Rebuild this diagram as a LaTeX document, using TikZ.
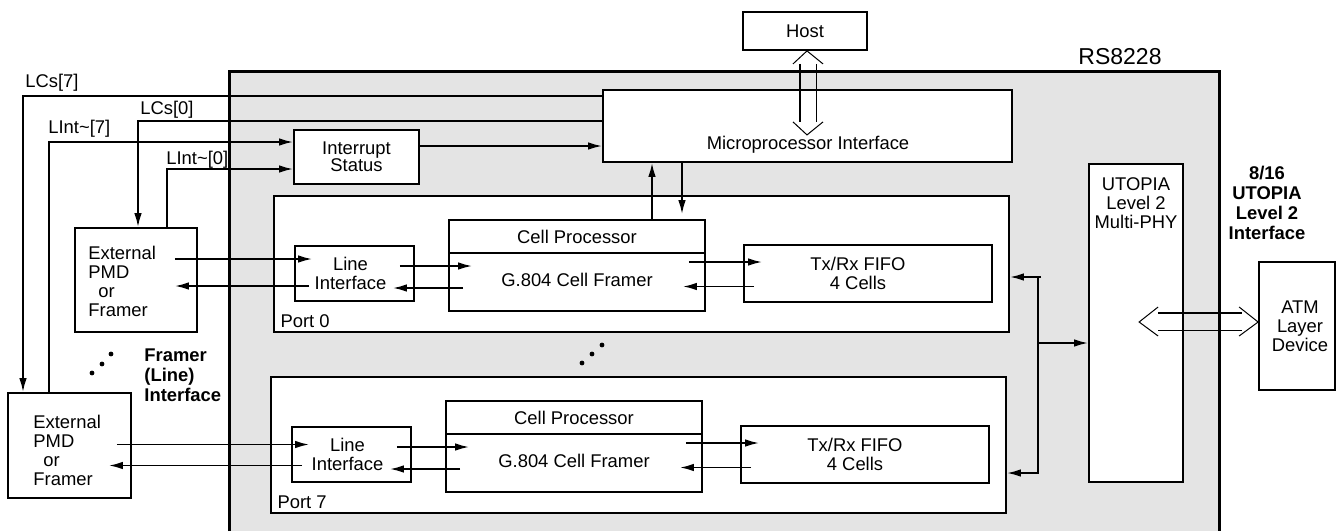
\documentclass[tikz,border=0pt]{standalone}
\usepackage{fontspec}
\setmainfont{Liberation Sans}
\usetikzlibrary{positioning,fit,calc,arrows.meta}
\definecolor{chipgray}{RGB}{228,228,228}
\def\diagfont{\fontsize{9.2pt}{9.5pt}\selectfont}

\begin{document}
\begin{tikzpicture}[x=0.5pt,y=-0.5pt,
  every node/.style={font=\diagfont,inner sep=0pt},
  blk/.style={draw,line width=0.9pt,fill=white,inner sep=0pt},
  con/.style={line width=0.9pt},
  arr/.style={line width=0.9pt,-{Latex[length=7pt,width=3.8pt]}},
  hollow/.style={line width=0.5pt},
  heavy/.style={line width=1pt},
  bold/.style={font=\fontsize{9.2pt}{10pt}\selectfont\bfseries}]
\useasboundingbox (0,0) rectangle (1336,531);

% the chip
\fill[chipgray] (229,71) rectangle (1219,531);
\draw[line width=1.5pt] (229,531) -- (229,71) -- (1219,71) -- (1219,531);
\node[font=\fontsize{11.5pt}{12pt}\selectfont] (chipname) at (1120,57) {RS8228};

% host side
\node[blk,fit={(743,12) (867,50)}] (host) {};
\node (hostlbl) at (host.center) {Host};
\node[blk,fit={(603,90) (1012,162)}] (upi) {};
\node (upilbl) at (808,145) {Microprocessor Interface};
\node[blk,fit={(294,130) (419,184)}] (irq) {};
\node[align=center,font=\fontsize{9.2pt}{8.5pt}\selectfont] (irqlbl) at (irq.center) {Interrupt\\Status};

\coordinate (ht) at ([xshift=1pt]host.south);
\draw[hollow] ($(ht)+(-14,13)$) -- (ht) -- ++(16,13);
\draw[heavy] ($(ht)+(-7,13)$) -- ++(0,58);
\draw[hollow] ($(ht)+(9,13)$) -- ++(0,58);
\draw[hollow] ($(ht)+(-14,71)$) -- ++(14,13) -- ++(16,-13);

% external framers
\node[blk,fit={(75,228) (197,332)}] (ext1) {};
\node[align=left,anchor=west] (ext1lbl) at (88,281) {External\\PMD\\\hspace*{5pt}or\\Framer};
\node[blk,fit={(8,393) (131,498)}] (ext2) {};
\node[align=left,anchor=west] (ext2lbl) at (33,450) {External\\PMD\\\hspace*{5pt}or\\Framer};

% ports
\foreach \p/\dx/\dy in {0/0/0,7/-3/181}{
\begin{scope}[shift={(\dx,\dy)}]
\node[blk,fit={(274,196) (1009,332)}] (port\p) {};
\node[anchor=south west] (port\p lbl) at ([shift={(7,-5)}]port\p.south west) {Port \p};
\node[blk,fit={(295,246) (414,301)}] (li\p) {};
\node[align=center] (li\p lbl) at ([xshift=-2pt]li\p.center) {Line\\Interface};
\node[blk,fit={(449,220) (705,253)}] (cp\p) {};
\node (cp\p lbl) at (cp\p.center) {Cell Processor};
\node[blk,fit={(449,253) (705,311)}] (fr\p) {};
\node (fr\p lbl) at ([yshift=1pt]fr\p.center) {G.804 Cell Framer};
\node[blk,fit={(744,245) (992,302)}] (fifo\p) {};
\node[align=center] (fifo\p lbl) at ([xshift=-5pt]fifo\p.center) {Tx/Rx FIFO\\4 Cells};
\draw[arr,shorten <=-7.5pt,shorten >=-12pt] ([yshift=3.75pt]li\p.east) -- ([yshift=3.75pt]li\p.east -| fr\p.west);
\draw[arr,shorten <=-7.5pt,shorten >=-11pt] ([yshift=-7.25pt]li\p.east -| fr\p.west) -- ([yshift=-7.25pt]li\p.east);
\draw[arr,shorten <=-8.5pt,shorten >=-9.5pt] ([yshift=5.75pt]fifo\p.west -| fr\p.east) -- ([yshift=5.75pt]fifo\p.west);
\draw[arr,shorten <=-5.5pt,shorten >=-11.5pt] ([yshift=-6.5pt]fifo\p.west) -- ([yshift=-6.5pt]fifo\p.west -| fr\p.east);
\end{scope}}

\draw[arr] ([xshift=37.5pt]cp0.north) -- ([xshift=37.5pt]cp0.north |- upi.south);
\draw[arr,shorten >=2.5pt] ([xshift=52.5pt]cp0.north |- upi.south) -- ([xshift=52.5pt]cp0.north);

% framer side lines
\draw[arr,shorten <=-11.5pt,shorten >=-9pt] ([yshift=7.25pt]li0.west -| ext1.east) -- ([yshift=7.25pt]li0.west);
\draw[arr,shorten <=-7.5pt,shorten >=-11.5pt] ([yshift=-6.25pt]li0.west) -- ([yshift=-6.25pt]li0.west -| ext1.east);
\draw[arr,shorten <=-7.5pt,shorten >=-9pt] ([yshift=5pt]li7.west -| ext2.east) -- ([yshift=5pt]li7.west);
\draw[arr,shorten <=-5.5pt,shorten >=-11.5pt] ([yshift=-5.5pt]li7.west) -- ([yshift=-5.5pt]li7.west -| ext2.east);

\coordinate (c7) at (23,96);
\coordinate (c0) at (138,121);
\coordinate (i7) at (49,142);
\coordinate (i0) at (167,169);
\draw[arr] (c7 -| upi.west) -- (c7) -- (c7 |- ext2.north);
\draw[arr] (c0 -| upi.west) -- (c0) -- (c0 |- ext1.north);
\draw[arr] (i7 |- ext2.north) -- (i7) -- (i7 -| irq.west);
\draw[arr] (i0 |- ext1.north) -- (i0) -- (i0 -| irq.west);
\draw[arr] ([yshift=5.5pt]irq.east) -- ([yshift=5.5pt]irq.east -| upi.west);
\node[anchor=west] (lcs7) at (25,83) {LCs[7]};
\node[anchor=west] (lcs0) at (140,110) {LCs[0]};
\node[anchor=west] (lint7) at (48,129) {LInt\textasciitilde[7]};
\node[anchor=west] (lint0) at (166,160) {LInt\textasciitilde[0]};
\node[bold,align=left,anchor=west] (framerlbl) at (144,375) {Framer\\(Line)\\Interface};

% utopia side
\node[blk,fit={(1089,164) (1183,482)}] (utopia) {};
\node[align=center] (utopialbl) at (1136,203) {UTOPIA\\Level 2\\Multi-PHY};
\node[blk,fit={(1259,262) (1335,390)}] (atm) {};
\node[align=center] (atmlbl) at ([xshift=1.5pt]atm.center) {ATM\\Layer\\Device};
\node[bold,align=center] (utplbl) at (1267,203) {8/16\\UTOPIA\\Level 2\\Interface};

\coordinate (bt) at (1038,277);
\coordinate (bm) at (1038,343);
\coordinate (bb) at (1038,473);
\draw[arr] ([xshift=1.5pt]bt) -- (bt -| port0.east);
\draw[arr] (bt) -- (bb) -- (bb -| port7.east);
\draw[arr] (bm) -- (bm -| utopia.west);

\coordinate (ar) at ([yshift=2pt]atm.west);
\draw[hollow] ($(ar)+(-19,-15)$) -- (ar) -- ++(-19,14);
\draw[heavy] ($(ar)+(-100,-9)$) -- ++(84,0);
\draw[hollow] ($(ar)+(-100,8)$) -- ++(84,0);
\draw[hollow] ($(ar)+(-100,-15)$) -- ++(-19,15) -- ++(19,14);

% dots
\foreach \d in {(92,373),(102,364),(111,354),(582,363),(592,354),(602,345)}
  \fill \d circle (1.2pt);
\end{tikzpicture}
\end{document}
